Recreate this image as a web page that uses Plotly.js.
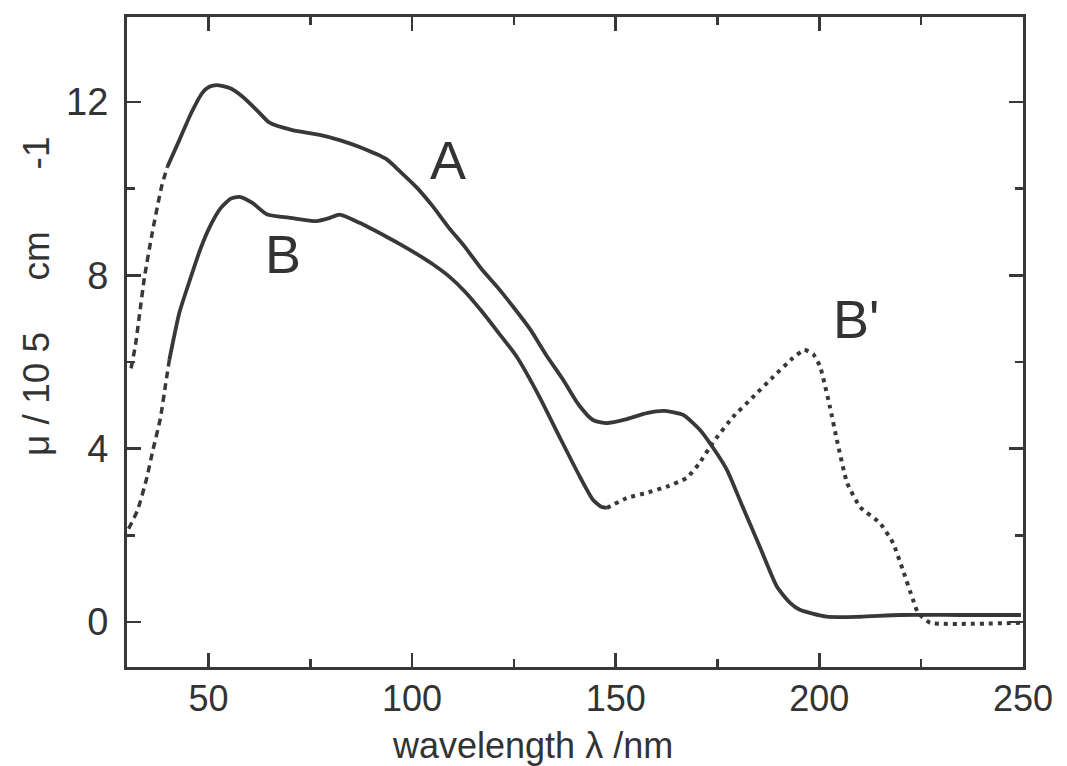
<!DOCTYPE html>
<html>
<head>
<meta charset="utf-8">
<script src="https://cdn.plot.ly/plotly-3.0.1.min.js"></script>
<style>html,body{margin:0;padding:0;background:#fff;}#chart{width:1067px;height:766px;}</style>
</head>
<body>
<div id="chart"></div>
<script>
// Curve A, dashed low-wavelength extrapolation
const aDashX = [31.0, 32.1, 33.0, 34.3, 36.2, 38.5, 39.9];
const aDashY = [5.85, 6.40, 7.04, 7.96, 8.98, 10.05, 10.50];
// Curve A, measured (solid)
const aX = [39.9, 42.9, 45.8, 48.5, 50.2, 52.0, 55.2, 58.4, 62.5, 65.0, 70.6, 77.3, 82.2, 87.1, 93.7, 97.0, 101.0, 105.0, 109.0, 113.0, 117.0, 121.0, 125.0, 129.0, 133.0, 137.0, 141.0, 144.4, 147.8, 152.7, 157.6, 162.0, 166.5, 170.7, 173.9, 177.3, 181.2, 185.4, 189.6, 192.8, 195.2, 201.8, 210.0, 219.8, 234.5, 249.5];
const aY = [10.50, 11.13, 11.75, 12.21, 12.35, 12.39, 12.32, 12.12, 11.75, 11.52, 11.35, 11.24, 11.12, 10.96, 10.68, 10.40, 10.04, 9.60, 9.10, 8.65, 8.15, 7.72, 7.25, 6.75, 6.15, 5.60, 5.00, 4.66, 4.59, 4.68, 4.82, 4.87, 4.78, 4.43, 4.02, 3.51, 2.65, 1.73, 0.81, 0.44, 0.28, 0.12, 0.12, 0.16, 0.16, 0.16];
// Curve B, dashed low-wavelength extrapolation
const bDashX = [30.4, 32.6, 34.8, 36.2, 38.2, 39.5, 40.4];
const bDashY = [2.15, 2.58, 3.30, 3.90, 4.70, 5.50, 6.05];
// Curve B, measured (solid)
const bX = [40.4, 42.9, 45.3, 48.0, 50.5, 53.0, 55.5, 57.6, 60.8, 64.3, 70.6, 76.5, 79.7, 82.2, 87.1, 93.7, 97.0, 101.0, 105.0, 109.0, 113.0, 117.0, 121.0, 125.7, 131.3, 136.2, 141.2, 144.4, 146.6, 147.8];
const bY = [6.05, 7.15, 7.85, 8.60, 9.15, 9.55, 9.77, 9.81, 9.67, 9.41, 9.32, 9.25, 9.32, 9.40, 9.21, 8.89, 8.72, 8.50, 8.26, 7.98, 7.62, 7.18, 6.70, 6.12, 5.19, 4.27, 3.35, 2.82, 2.65, 2.63];
// Curve B' (dotted)
const bpX = [147.8, 152.7, 157.6, 162.5, 167.4, 170.6, 173.8, 178.8, 183.7, 188.6, 193.5, 196.3, 198.5, 200.2, 202.6, 204.3, 206.8, 210.0, 214.9, 218.1, 220.5, 223.0, 224.2, 227.2, 249.3];
const bpY = [2.63, 2.86, 2.98, 3.12, 3.32, 3.67, 4.13, 4.73, 5.19, 5.65, 6.09, 6.28, 6.18, 5.89, 4.96, 4.20, 3.21, 2.65, 2.28, 1.82, 1.20, 0.51, 0.21, -0.02, -0.02];
// Curve labels
const labelText = ["A", "B", "B'"];
const labelX = [108.7, 68.2, 209.0];
const labelY = [10.66, 8.49, 7.0];
// Axis titles
const xTitle = 'wavelength \u03bb /nm';
const yTitle = '\u03bc / 10 5\u00a0\u00a0\u00a0\u00a0 cm\u00a0\u00a0\u00a0\u00a0\u00a0 -1';

const ink = '#383838';
const traces = [
  {x: aDashX, y: aDashY, mode: 'lines', line: {color: ink, width: 3.5, dash: '7px,5px', shape: 'spline', smoothing: 0.5}},
  {x: aX, y: aY, mode: 'lines', line: {color: ink, width: 3.8, shape: 'spline', smoothing: 0.6}},
  {x: bDashX, y: bDashY, mode: 'lines', line: {color: ink, width: 3.5, dash: '7px,5px', shape: 'spline', smoothing: 0.5}},
  {x: bX, y: bY, mode: 'lines', line: {color: ink, width: 3.8, shape: 'spline', smoothing: 0.6}},
  {x: bpX, y: bpY, mode: 'lines', line: {color: ink, width: 4, dash: '4px,5px', shape: 'spline', smoothing: 0.4}}
];

const font = 'Liberation Sans, Arial, Helvetica, sans-serif';
const txt = '#333333';
const anns = labelText.map((t, i) => ({
  x: labelX[i], y: labelY[i], xref: 'x', yref: 'y', text: t, showarrow: false,
  font: {size: 54, color: txt, family: font}
}));
anns.push({
  text: xTitle, xref: 'paper', yref: 'paper', x: (532 - 127) / 896, y: (667 - 745) / 650,
  xanchor: 'center', yanchor: 'middle', showarrow: false,
  font: {size: 36, color: txt, family: font}
});
anns.push({
  text: yTitle, textangle: -90, xref: 'paper', yref: 'paper', x: (36 - 127) / 896, y: (667 - 297) / 650,
  xanchor: 'center', yanchor: 'middle', showarrow: false,
  font: {size: 37, color: txt, family: font}
});

const layout = {
  width: 1067, height: 766,
  margin: {l: 127, r: 44, t: 17, b: 99},
  paper_bgcolor: '#ffffff', plot_bgcolor: '#ffffff',
  showlegend: false,
  font: {family: font, color: txt},
  xaxis: {
    range: [30, 250], tick0: 0, dtick: 50,
    ticks: 'inside', ticklen: 14, tickwidth: 2.5, tickcolor: ink,
    minor: {dtick: 25, ticks: 'inside', ticklen: 8, tickwidth: 2.5, tickcolor: ink},
    showline: true, linewidth: 3, linecolor: ink, mirror: 'ticks',
    showgrid: false, zeroline: false,
    tickfont: {size: 36, color: txt, family: font},
    ticklabelstandoff: -2
  },
  yaxis: {
    range: [-1.04, 13.96], tick0: 0, dtick: 4,
    ticks: 'inside', ticklen: 14, tickwidth: 2.5, tickcolor: ink,
    minor: {dtick: 2, ticks: 'inside', ticklen: 8, tickwidth: 2.5, tickcolor: ink},
    showline: true, linewidth: 3, linecolor: ink, mirror: 'ticks',
    showgrid: false, zeroline: false,
    tickfont: {size: 38, color: txt, family: font},
    ticklabelstandoff: 8
  },
  annotations: anns
};

Plotly.newPlot('chart', traces, layout, {displayModeBar: false, staticPlot: true});
</script>
</body>
</html>
